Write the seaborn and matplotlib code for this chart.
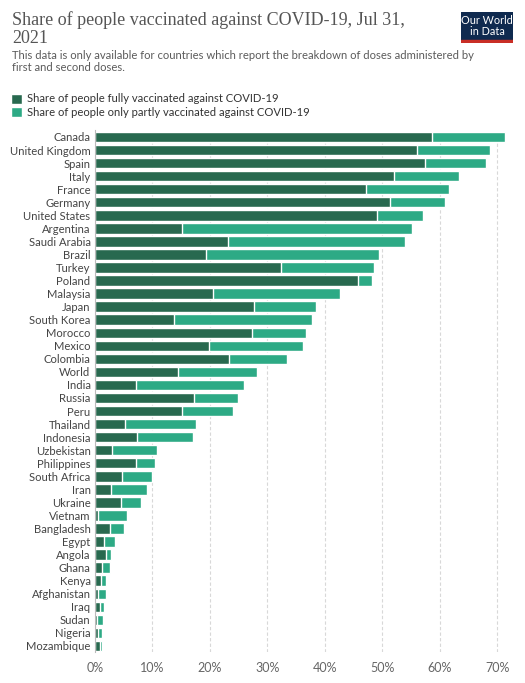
import matplotlib
matplotlib.use('Agg')
import matplotlib.pyplot as plt
from matplotlib.patches import Patch, Rectangle
import seaborn as sns
import pandas as pd

countries = ['Canada', 'United Kingdom', 'Spain', 'Italy', 'France', 'Germany',
             'United States', 'Argentina', 'Saudi Arabia', 'Brazil', 'Turkey',
             'Poland', 'Malaysia', 'Japan', 'South Korea', 'Morocco', 'Mexico',
             'Colombia', 'World', 'India', 'Russia', 'Peru', 'Thailand',
             'Indonesia', 'Uzbekistan', 'Philippines', 'South Africa', 'Iran',
             'Ukraine', 'Vietnam', 'Bangladesh', 'Egypt', 'Angola', 'Ghana',
             'Kenya', 'Afghanistan', 'Iraq', 'Sudan', 'Nigeria', 'Mozambique']

# share fully vaccinated (%)
fully = [58.7, 56.0, 57.4, 52.0, 47.1, 51.4, 49.1, 15.2, 23.2, 19.4, 32.4,
         45.8, 20.6, 27.7, 13.8, 27.4, 19.9, 23.3, 14.5, 7.2, 17.3, 15.1, 5.2,
         7.4, 3.0, 7.1, 4.7, 2.8, 4.5, 0.5, 2.6, 1.6, 1.9, 1.2, 1.1, 0.5, 0.9,
         0.35, 0.6, 1.0]

# share with at least one dose (fully + partly) (%)
total = [71.4, 68.8, 68.0, 63.4, 61.6, 61.0, 57.1, 55.2, 53.9, 49.4, 48.6,
         48.2, 42.6, 38.5, 37.8, 36.8, 36.3, 33.4, 28.2, 26.0, 25.0, 24.1, 17.6,
         17.1, 10.9, 10.5, 9.9, 9.1, 8.1, 5.7, 5.1, 3.5, 2.9, 2.7, 1.9, 1.9, 1.7,
         1.4, 1.2, 1.2]

df = pd.DataFrame({'Country': countries, 'Fully': fully, 'Total': total})

dark = '#28694f'
light = '#2daa85'

sns.set_style('white')
plt.rcParams['font.family'] = ['Lato', 'DejaVu Sans']

fig = plt.figure(figsize=(5.25, 6.83), dpi=100)
ax = fig.add_axes([0.1804, 0.0447, 0.969 - 0.1804, 0.809 - 0.0447])

sns.barplot(data=df, x='Total', y='Country', color=light, width=0.8,
            saturation=1, ax=ax)
sns.barplot(data=df, x='Fully', y='Country', color=dark, width=0.8,
            saturation=1, ax=ax)

ax.set_xlim(0, 72)
ax.set_xticks(range(0, 71, 10))
ax.set_xticklabels([f'{v}%' for v in range(0, 71, 10)])
ax.set_xlabel('')
ax.set_ylabel('')
ax.grid(axis='x', color='#d8d8d8', linestyle=(0, (3, 2)), linewidth=0.8)
ax.set_axisbelow(True)
for s in ['top', 'right', 'bottom']:
    ax.spines[s].set_visible(False)
ax.spines['left'].set_color('#bbbbbb')
ax.spines['left'].set_linewidth(0.8)
ax.tick_params(axis='y', length=0, pad=3, labelsize=8.1, labelcolor='#444444')
ax.tick_params(axis='x', length=0, pad=7, labelsize=9, labelcolor='#666666')

# title / subtitle
fig.text(12 / 525, 1 - 11 / 683,
         'Share of people vaccinated against COVID-19, Jul 31,\n2021',
         fontsize=13.0, color='#555555', va='top', ha='left',
         family=['Liberation Serif', 'DejaVu Serif'], linespacing=1.05)
fig.text(12 / 525, 1 - 50 / 683,
         'This data is only available for countries which report the breakdown of doses administered by\nfirst and second doses.',
         fontsize=8.1, color='#5b5b5b', va='top', ha='left', linespacing=1.15)

# legend
handles = [Patch(facecolor=dark, label='Share of people fully vaccinated against COVID-19'),
           Patch(facecolor=light, label='Share of people only partly vaccinated against COVID-19')]
fig.legend(handles=handles, loc='upper left', bbox_to_anchor=(6 / 525, 1 - 89 / 683),
           frameon=False, fontsize=8.1, handlelength=1.0, handleheight=1.0,
           handletextpad=0.5, labelspacing=0.25, labelcolor='#333333',
           borderaxespad=0)

# logo
logo = fig.add_axes([461 / 525, 1 - 43 / 683, 52 / 525, 31 / 683])
logo.set_xlim(0, 1)
logo.set_ylim(0, 1)
logo.axis('off')
logo.add_patch(Rectangle((0, 0.1), 1, 0.9, color='#0f2a4f'))
logo.add_patch(Rectangle((0, 0), 1, 0.1, color='#c92e26'))
logo.text(0.5, 0.55, 'Our World\nin Data', color='white', fontsize=7.8,
          ha='center', va='center', linespacing=0.95)

fig.savefig('out.png', dpi=100)
